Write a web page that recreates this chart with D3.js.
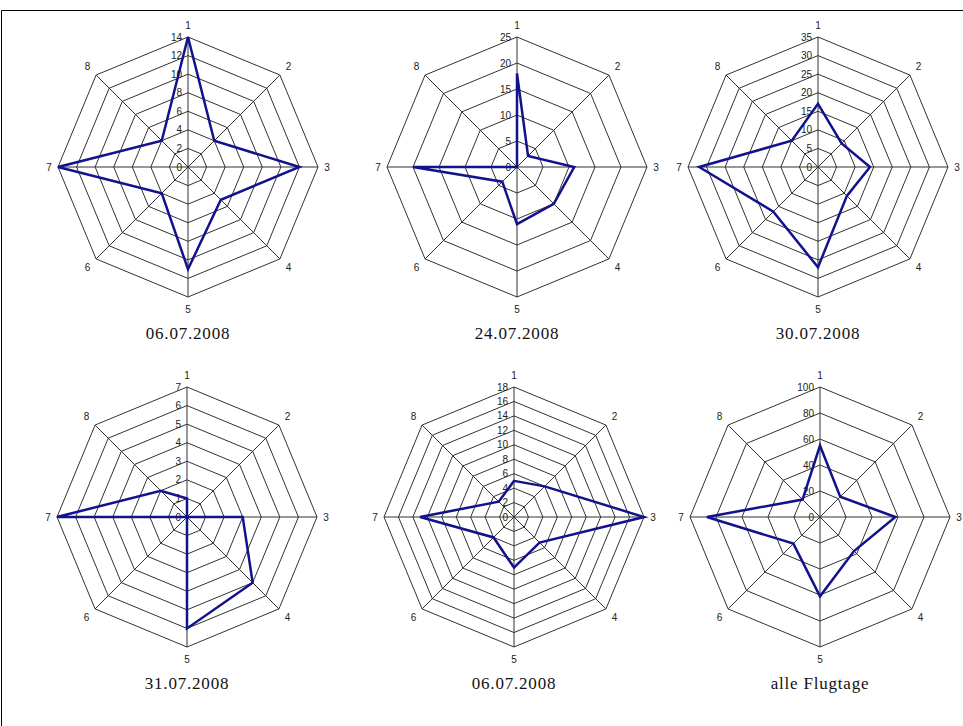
<!DOCTYPE html>
<html>
<head>
<meta charset="utf-8">
<script src="https://cdn.jsdelivr.net/npm/d3@7/dist/d3.min.js"></script>
<style>
  html, body { margin: 0; padding: 0; background: #fff; }
  svg { display: block; }
</style>
</head>
<body>
<svg id="chart" width="963" height="726"></svg>
<script>
// Direction sectors 1..8 (clockwise from the top)
const categories = ["1", "2", "3", "4", "5", "6", "7", "8"];

// Panel titles (flight days)
const titles = ["06.07.2008", "24.07.2008", "30.07.2008", "31.07.2008", "06.07.2008", "alle Flugtage"];

// Counts per sector for each flight day
const day0607a = [14, 4, 12, 5, 11, 4, 14, 4];
const day2407 = [18, 3, 11, 10, 11, 4, 20, 0];
const day3007 = [17, 9, 14, 11, 27, 17, 32, 10];
const day3107 = [1, 0, 3, 5, 6, 0, 7, 2];
const day0607b = [5, 6, 18, 5, 7, 4, 13, 3];
const allDays = [55, 22, 58, 37, 61, 29, 87, 19];

// Radial tick labels of each panel
const ticks0607a = [0, 2, 4, 6, 8, 10, 12, 14];
const ticks2407 = [0, 5, 10, 15, 20, 25];
const ticks3007 = [0, 5, 10, 15, 20, 25, 30, 35];
const ticks3107 = [0, 1, 2, 3, 4, 5, 6, 7];
const ticks0607b = [0, 2, 4, 6, 8, 10, 12, 14, 16, 18];
const ticksAll = [0, 20, 40, 60, 80, 100];

const panels = [
  { title: titles[0], values: day0607a, ticks: ticks0607a, cx: 188, cy: 167 },
  { title: titles[1], values: day2407, ticks: ticks2407, cx: 517, cy: 167 },
  { title: titles[2], values: day3007, ticks: ticks3007, cx: 818, cy: 167 },
  { title: titles[3], values: day3107, ticks: ticks3107, cx: 187, cy: 517 },
  { title: titles[4], values: day0607b, ticks: ticks0607b, cx: 514, cy: 517 },
  { title: titles[5], values: allDays, ticks: ticksAll, cx: 820, cy: 517 }
];

const R = 130;
const svg = d3.select("#chart");

// page frame
svg.append("path")
  .attr("d", "M1.5,726 V10.5 H963")
  .attr("fill", "none")
  .attr("stroke", "#000")
  .attr("stroke-width", 1);

const angle = d3.scaleLinear()
  .domain([0, categories.length])
  .range([0, 2 * Math.PI]);

// label distance from the centre: a bit closer at the left/right sides
const labelRadius = i => (i % 4 === 2 ? R + 9 : R + 12);

panels.forEach(p => {
  const maxV = d3.max(p.ticks);
  const r = d3.scaleLinear().domain([0, maxV]).range([0, R]);
  const g = svg.append("g").attr("transform", `translate(${p.cx},${p.cy})`);

  // octagonal grid rings
  const ring = d3.lineRadial()
    .angle((d, i) => angle(i))
    .radius(d => d)
    .curve(d3.curveLinearClosed);

  p.ticks.filter(t => t > 0).forEach(t => {
    g.append("path")
      .attr("d", ring(categories.map(() => r(t))))
      .attr("fill", "none")
      .attr("stroke", "#333")
      .attr("stroke-width", 1);
  });

  // spokes
  categories.forEach((c, i) => {
    const a = angle(i);
    g.append("line")
      .attr("x1", 0).attr("y1", 0)
      .attr("x2", R * Math.sin(a))
      .attr("y2", -R * Math.cos(a))
      .attr("stroke", "#333")
      .attr("stroke-width", 1);
  });

  // radial tick labels along sector 1
  g.selectAll("text.tick")
    .data(p.ticks)
    .join("text")
    .attr("class", "tick")
    .attr("x", -6)
    .attr("y", d => -r(d))
    .attr("dy", "0.35em")
    .attr("text-anchor", "end")
    .attr("font-family", "Liberation Sans, Arial, sans-serif")
    .attr("font-size", 10)
    .attr("fill", "#222")
    .text(d => d);

  // sector labels
  g.selectAll("text.cat")
    .data(categories)
    .join("text")
    .attr("class", "cat")
    .attr("x", (d, i) => labelRadius(i) * Math.sin(angle(i)))
    .attr("y", (d, i) => -labelRadius(i) * Math.cos(angle(i)))
    .attr("dy", "0.35em")
    .attr("text-anchor", "middle")
    .attr("font-family", "Liberation Sans, Arial, sans-serif")
    .attr("font-size", 10)
    .attr("fill", "#222")
    .text(d => d);

  // data polygon
  const line = d3.lineRadial()
    .angle((d, i) => angle(i))
    .radius(d => r(d))
    .curve(d3.curveLinearClosed);

  g.append("path")
    .attr("d", line(p.values))
    .attr("fill", "none")
    .attr("stroke", "#12128c")
    .attr("stroke-width", 2.5)
    .attr("stroke-linejoin", "miter");

  // title
  svg.append("text")
    .attr("x", p.cx)
    .attr("y", p.cy + 172)
    .attr("text-anchor", "middle")
    .attr("font-family", "Liberation Serif, Times New Roman, serif")
    .attr("font-size", 17)
    .attr("letter-spacing", "0.8px")
    .attr("fill", "#111")
    .text(p.title);
});
</script>
</body>
</html>
